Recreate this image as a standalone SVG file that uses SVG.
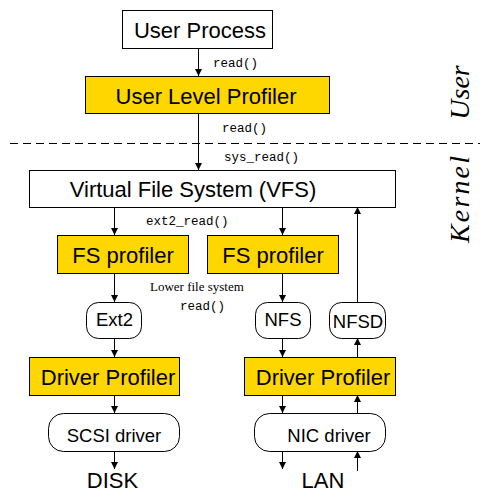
<svg xmlns="http://www.w3.org/2000/svg" width="490" height="499" viewBox="0 0 490 499">
<style>
.box{fill:#fff;stroke:#000;stroke-width:1}
.prof{fill:#FFD700;stroke:#000;stroke-width:1}
.t{font-family:"Liberation Sans",Arial,sans-serif;font-size:22px;fill:#000;text-anchor:middle}
.s{font-family:"Liberation Sans",Arial,sans-serif;font-size:18.5px;fill:#000;text-anchor:middle}
.m{font-family:"Liberation Mono","Courier New",monospace;font-size:12.5px;fill:#000}
.sf{font-family:"Liberation Serif","Times New Roman",serif;font-size:13px;fill:#000}
.side{font-family:"Liberation Serif","Times New Roman",serif;font-style:italic;font-size:28px;fill:#000;text-anchor:middle}
.c{stroke:#000;stroke-width:1;fill:none;marker-end:url(#ah)}
</style>
<defs>
<marker id="ah" markerWidth="8" markerHeight="8" refX="7" refY="3.5" orient="auto" markerUnits="userSpaceOnUse">
<path d="M0,0 L7,3.5 L0,7 Z" fill="#000"/>
</marker>
</defs>
<rect width="490" height="499" fill="#fff"/>
<line x1="10" y1="143.5" x2="480" y2="143.5" stroke="#000" stroke-width="1" stroke-dasharray="8,5"/>
<text class="side" transform="translate(469,92.5) rotate(-90)">User</text>
<text class="side" transform="translate(469,199.5) rotate(-90)" textLength="87" lengthAdjust="spacing">Kernel</text>

<g id="connectors">
<line class="c" x1="198.5" y1="48" x2="198.5" y2="76"/>
<line class="c" x1="198.5" y1="113" x2="198.5" y2="170"/>
<line class="c" x1="114.5" y1="207" x2="114.5" y2="235"/>
<line class="c" x1="282.5" y1="207" x2="282.5" y2="235"/>
<line class="c" x1="357.5" y1="302" x2="357.5" y2="207"/>
<line class="c" x1="114.5" y1="273" x2="114.5" y2="302"/>
<line class="c" x1="282.5" y1="273" x2="282.5" y2="302"/>
<line class="c" x1="114.5" y1="338" x2="114.5" y2="357"/>
<line class="c" x1="282.5" y1="338" x2="282.5" y2="357"/>
<line class="c" x1="357.5" y1="357" x2="357.5" y2="338"/>
<line class="c" x1="114.5" y1="395" x2="114.5" y2="413"/>
<line class="c" x1="282.5" y1="395" x2="282.5" y2="413"/>
<line class="c" x1="357.5" y1="413" x2="357.5" y2="395"/>
<line class="c" x1="114.5" y1="451" x2="114.5" y2="469"/>
<line class="c" x1="282.5" y1="451" x2="282.5" y2="469"/>
<line class="c" x1="357.5" y1="471" x2="357.5" y2="451"/>
<text class="m" x="213" y="67">read()</text>
<text class="m" x="222" y="132">read()</text>
<text class="m" x="224" y="161">sys_read()</text>
<text class="m" x="146" y="225">ext2_read()</text>
<text class="sf" x="150" y="291">Lower file system</text>
<text class="m" x="180" y="310">read()</text>
</g>

<g id="user-process"><rect class="box" x="122.5" y="10.5" width="150" height="38"/><text class="t" x="200" y="38">User Process</text></g>
<g id="user-level-profiler"><rect class="prof" x="85.5" y="76.5" width="244" height="37"/><text class="t" x="206" y="104">User Level Profiler</text></g>
<g id="vfs"><rect class="box" x="29.5" y="170.5" width="366" height="37"/><text class="t" x="193" y="197">Virtual File System (VFS)</text></g>
<g id="fs-profiler-1"><rect class="prof" x="57.5" y="235.5" width="131" height="38"/><text class="t" x="123" y="263">FS profiler</text></g>
<g id="fs-profiler-2"><rect class="prof" x="207.5" y="235.5" width="131" height="38"/><text class="t" x="273" y="263">FS profiler</text></g>
<g id="ext2"><rect class="box" x="86.5" y="302.5" width="55" height="36" rx="12"/><text class="s" x="114.5" y="326">Ext2</text></g>
<g id="nfs"><rect class="box" x="255.5" y="302.5" width="55" height="36" rx="12"/><text class="s" x="283" y="326">NFS</text></g>
<g id="nfsd"><rect class="box" x="329.5" y="302.5" width="56" height="36" rx="12"/><text class="s" x="358" y="328">NFSD</text></g>
<g id="driver-profiler-1"><rect class="prof" x="29.5" y="357.5" width="150" height="38"/><text class="t" x="108" y="385">Driver Profiler</text></g>
<g id="driver-profiler-2"><rect class="prof" x="244.5" y="357.5" width="151" height="38"/><text class="t" x="323" y="385">Driver Profiler</text></g>
<g id="scsi-driver"><rect class="box" x="48.5" y="413.5" width="131" height="38" rx="15"/><text class="s" x="114" y="442">SCSI driver</text></g>
<g id="nic-driver"><rect class="box" x="254.5" y="413.5" width="131" height="38" rx="15"/><text class="s" x="329" y="442">NIC driver</text></g>
<g id="disk"><text class="t" x="112.5" y="488">DISK</text></g>
<g id="lan"><text class="t" x="323" y="488">LAN</text></g>
</svg>
